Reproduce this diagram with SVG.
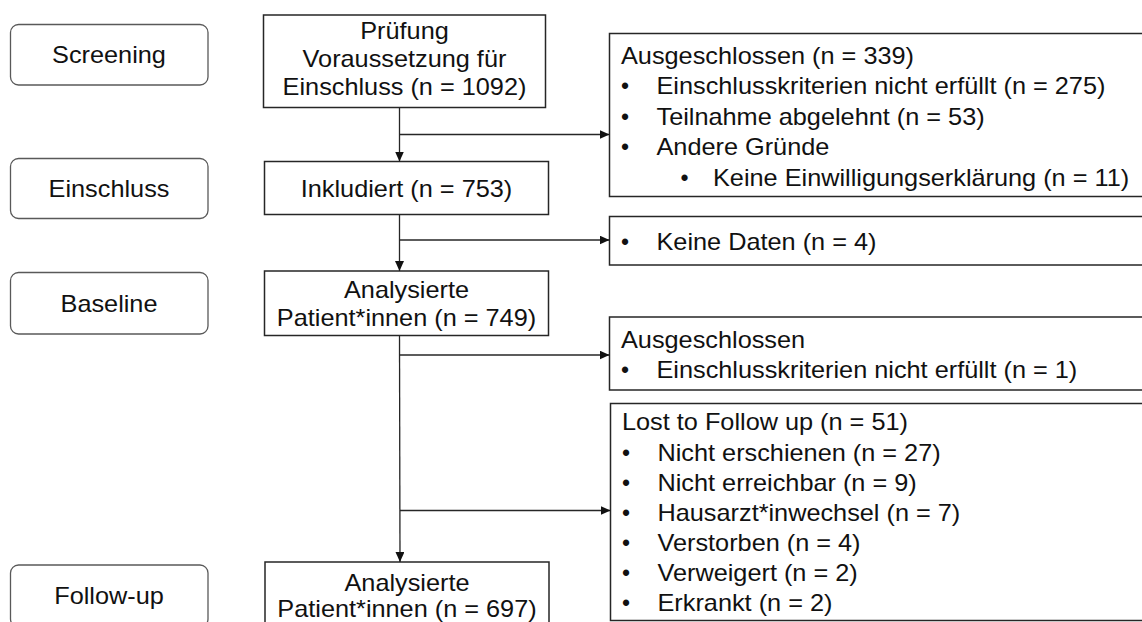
<svg xmlns="http://www.w3.org/2000/svg" width="1142" height="622" viewBox="0 0 1142 622">
<style>
text{font-family:"Liberation Sans",Arial,sans-serif;font-size:23px;fill:#111}
.c{text-anchor:middle}
.stage{fill:#fff;stroke:#595959;stroke-width:1.3}
.box{fill:#fff;stroke:#262626;stroke-width:1.5}
.conn{fill:none;stroke:#262626;stroke-width:1.3}
</style>
<defs>
<marker id="ah" markerUnits="userSpaceOnUse" markerWidth="11" markerHeight="10" refX="10" refY="4.5" orient="auto">
<path d="M0,0 L10,4.5 L0,9 z" fill="#111"/>
</marker>
</defs>
<rect width="1142" height="622" fill="#fff"/>
<g id="stage-screening"><rect class="stage" x="10.5" y="24.5" width="197.5" height="60.5" rx="8"/><text class="c" transform="translate(109 63) scale(1.1 1)">Screening</text></g>
<g id="stage-einschluss"><rect class="stage" x="10.5" y="158.5" width="197.5" height="60" rx="8"/><text class="c" transform="translate(109 197) scale(1.1 1)">Einschluss</text></g>
<g id="stage-baseline"><rect class="stage" x="10.5" y="272.5" width="197.5" height="61.5" rx="8"/><text class="c" transform="translate(109 312) scale(1.1 1)">Baseline</text></g>
<g id="stage-followup"><rect class="stage" x="10.5" y="565" width="197.5" height="62" rx="8"/><text class="c" transform="translate(109 604) scale(1.1 1)">Follow-up</text></g>

<g id="n-pruefung"><rect class="box" x="263.5" y="15" width="282" height="92.5"/>
<text class="c" transform="translate(404.5 38.5) scale(1.1 1)">Prüfung</text><text class="c" transform="translate(404.5 66.5) scale(1.1 1)">Voraussetzung für</text><text class="c" transform="translate(404.5 94.5) scale(1.1 1)">Einschluss (n = 1092)</text></g>
<g id="n-inkludiert"><rect class="box" x="264.5" y="161.5" width="284" height="53"/><text class="c" transform="translate(406.5 196.5) scale(1.1 1)">Inkludiert (n = 753)</text></g>
<g id="n-baseline"><rect class="box" x="264.5" y="271" width="284" height="64.5"/>
<text class="c" transform="translate(406.5 297.5) scale(1.1 1)">Analysierte</text><text class="c" transform="translate(406.5 326) scale(1.1 1)">Patient*innen (n = 749)</text></g>
<g id="n-followup"><rect class="box" x="265" y="562" width="284" height="80"/>
<text class="c" transform="translate(407 590.5) scale(1.1 1)">Analysierte</text><text class="c" transform="translate(407 617) scale(1.1 1)">Patient*innen (n = 697)</text></g>

<g id="x-screening"><rect class="box" x="609.5" y="33.5" width="540" height="163"/>
<text transform="translate(621 63.5) scale(1.1 1)">Ausgeschlossen (n = 339)</text>
<text x="621" y="94">•</text><text transform="translate(656.5 94) scale(1.1 1)">Einschlusskriterien nicht erfüllt (n = 275)</text>
<text x="621" y="124.5">•</text><text transform="translate(656.5 124.5) scale(1.1 1)">Teilnahme abgelehnt (n = 53)</text>
<text x="621" y="155">•</text><text transform="translate(656.5 155) scale(1.1 1)">Andere Gründe</text>
<text x="680.5" y="185.5">•</text><text transform="translate(713 185.5) scale(1.1 1)">Keine Einwilligungserklärung (n = 11)</text></g>
<g id="x-einschluss"><rect class="box" x="609.5" y="216.5" width="540" height="48.5"/>
<text x="621" y="249.5">•</text><text transform="translate(656.5 249.5) scale(1.1 1)">Keine Daten (n = 4)</text></g>
<g id="x-baseline"><rect class="box" x="609.5" y="317" width="540" height="73"/>
<text transform="translate(621 347.5) scale(1.1 1)">Ausgeschlossen</text>
<text x="621" y="377.5">•</text><text transform="translate(656.5 377.5) scale(1.1 1)">Einschlusskriterien nicht erfüllt (n = 1)</text></g>
<g id="x-followup"><rect class="box" x="610.5" y="403.5" width="540" height="217"/>
<text transform="translate(622 429.5) scale(1.1 1)">Lost to Follow up (n = 51)</text>
<text x="622" y="460.5">•</text><text transform="translate(657.5 460.5) scale(1.1 1)">Nicht erschienen (n = 27)</text>
<text x="622" y="490.5">•</text><text transform="translate(657.5 490.5) scale(1.1 1)">Nicht erreichbar (n = 9)</text>
<text x="622" y="520.5">•</text><text transform="translate(657.5 520.5) scale(1.1 1)">Hausarzt*inwechsel (n = 7)</text>
<text x="622" y="550.5">•</text><text transform="translate(657.5 550.5) scale(1.1 1)">Verstorben (n = 4)</text>
<text x="622" y="580.5">•</text><text transform="translate(657.5 580.5) scale(1.1 1)">Verweigert (n = 2)</text>
<text x="622" y="610.5">•</text><text transform="translate(657.5 610.5) scale(1.1 1)">Erkrankt (n = 2)</text></g>

<g id="connectors">
<line class="conn" x1="399.5" y1="107.5" x2="399.5" y2="161.5" marker-end="url(#ah)"/>
<line class="conn" x1="399.5" y1="134.5" x2="609.5" y2="134.5" marker-end="url(#ah)"/>
<line class="conn" x1="399.5" y1="214.5" x2="399.5" y2="271" marker-end="url(#ah)"/>
<line class="conn" x1="399.5" y1="240" x2="609.5" y2="240" marker-end="url(#ah)"/>
<line class="conn" x1="399.5" y1="335.5" x2="400" y2="562" marker-end="url(#ah)"/>
<line class="conn" x1="399.5" y1="355" x2="609.5" y2="355" marker-end="url(#ah)"/>
<line class="conn" x1="400" y1="510.5" x2="610.5" y2="510.5" marker-end="url(#ah)"/>
</g>
</svg>
